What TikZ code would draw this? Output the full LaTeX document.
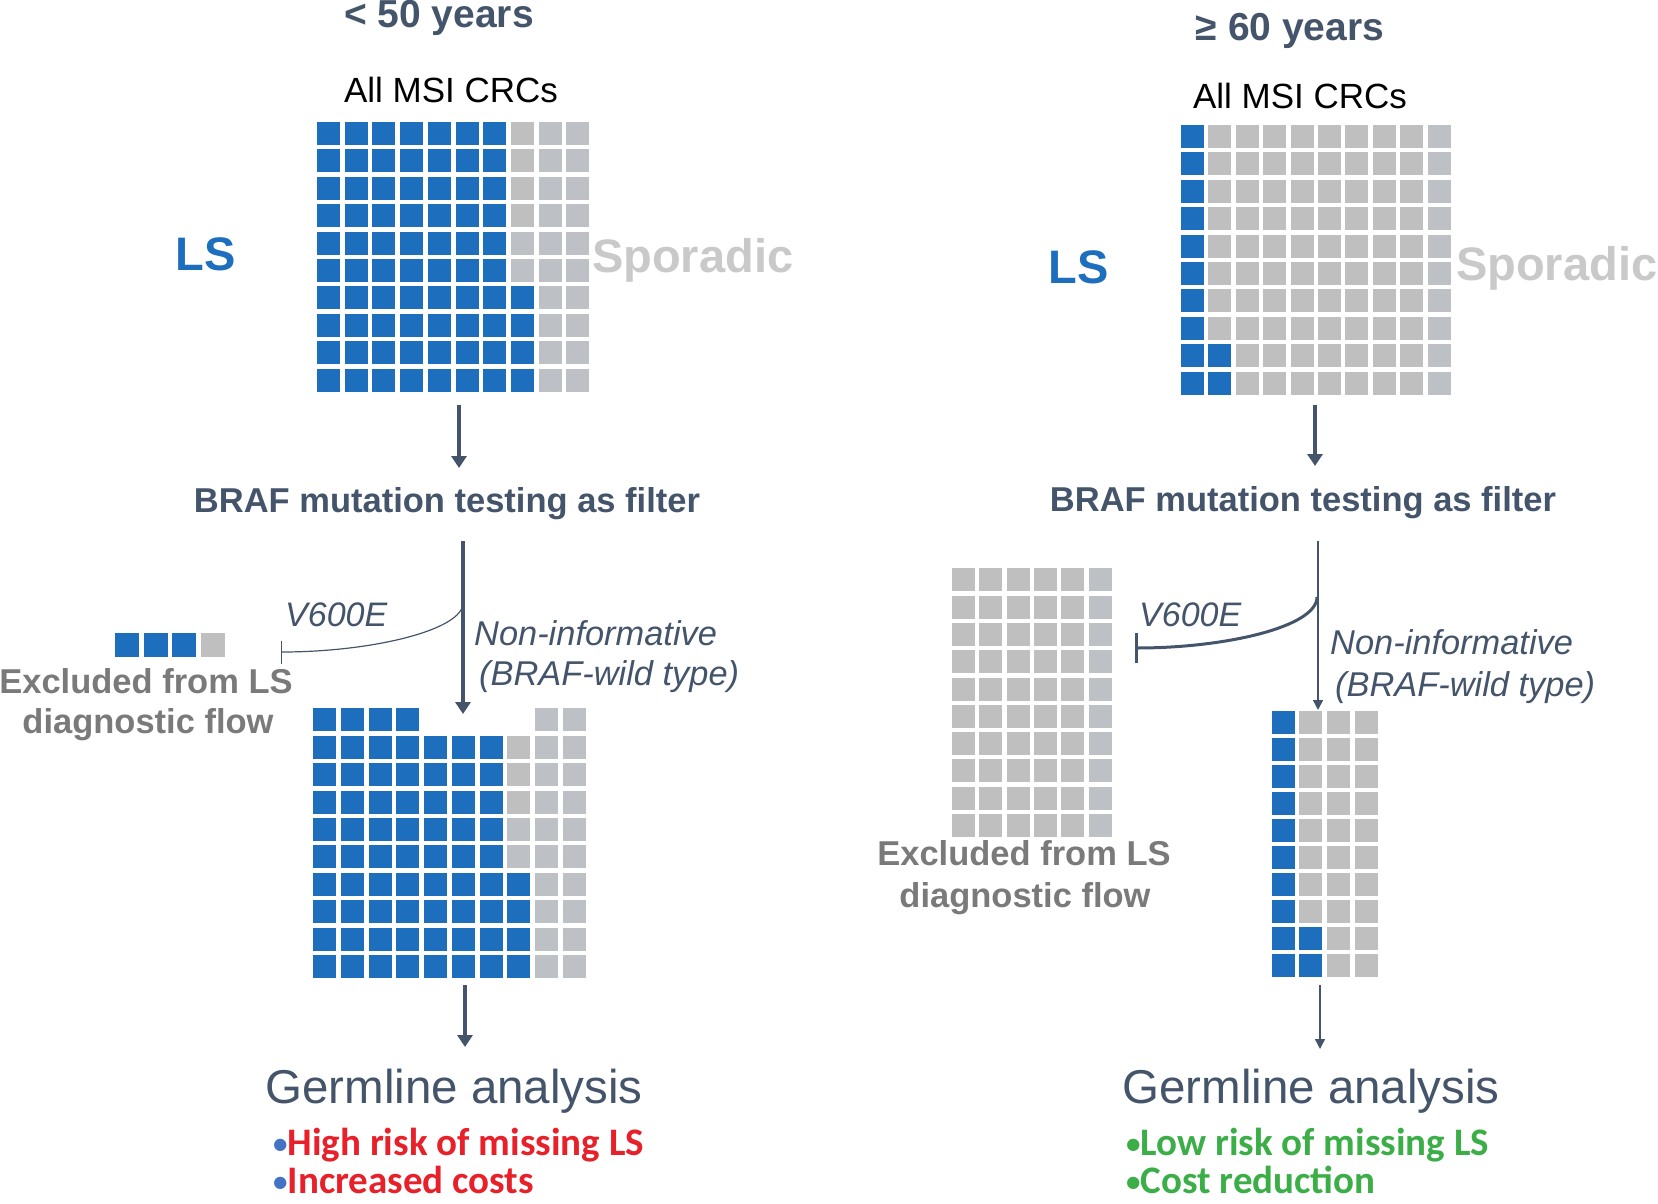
\documentclass[tikz,border=0pt]{standalone}
\usepackage{fontspec}
\setmainfont{Liberation Sans}
\newfontfamily\calfont{Carlito}
\usetikzlibrary{arrows.meta}
\definecolor{blueC}{HTML}{1E6EBE}
\definecolor{grayW}{HTML}{BFBFBF}
\definecolor{grayB}{HTML}{BDC1C6}
\definecolor{slate}{HTML}{44546A}
\definecolor{spor}{HTML}{C9C9C9}
\definecolor{exgray}{HTML}{7A7A7A}
\definecolor{redT}{HTML}{E8202A}
\definecolor{greenT}{HTML}{3BAE48}
\definecolor{bulB}{HTML}{4472C4}
\tikzset{
  cb/.style={fill=blueC}, cg/.style={fill=grayW}, ch/.style={fill=grayB}, nn/.style={fill=none},
  lbl/.style={inner sep=0pt, anchor=base},
  lblw/.style={inner sep=0pt, anchor=base west},
  bigarr/.style={draw=slate, line width=3.5pt, -{Triangle[width=15pt,length=12pt]}},
  thinarr/.style={draw=slate, line width=1.5pt, -{Triangle[width=10pt,length=10pt]}},
}
\newcommand\sqgrid[6]{%
  \foreach \rowspec [count=\rr from 0] in {#6} {
    \foreach \cc [count=\ii from 0] in \rowspec {
      \fill[\cc] ({#1+\ii*#3},{#2+\rr*#4}) rectangle ++(#5,#5);
    }
  }%
}
\newcommand\smbul{\raisebox{2pt}{\fontsize{29}{30}\selectfont •}}
\begin{document}
\begin{tikzpicture}[x=1pt,y=-1pt]
\useasboundingbox (0,0) rectangle (1658,1204);
% ---------- grids ----------
% left top
\sqgrid{317}{122}{27.7}{27.4}{23}{%
 {cb,cb,cb,cb,cb,cb,cb,cg,ch,ch},{cb,cb,cb,cb,cb,cb,cb,cg,ch,ch},
 {cb,cb,cb,cb,cb,cb,cb,cg,ch,ch},{cb,cb,cb,cb,cb,cb,cb,cg,ch,ch},
 {cb,cb,cb,cb,cb,cb,cb,ch,ch,ch},{cb,cb,cb,cb,cb,cb,cb,ch,ch,ch},
 {cb,cb,cb,cb,cb,cb,cb,cb,ch,ch},{cb,cb,cb,cb,cb,cb,cb,cb,ch,ch},
 {cb,cb,cb,cb,cb,cb,cb,cb,ch,ch},{cb,cb,cb,cb,cb,cb,cb,cb,ch,ch}}
% right top
\sqgrid{1181}{125}{27.4}{27.4}{23}{%
 {cb,cg,cg,cg,cg,cg,cg,cg,cg,ch},{cb,cg,cg,cg,cg,cg,cg,cg,cg,ch},
 {cb,cg,cg,cg,cg,cg,cg,cg,cg,ch},{cb,cg,cg,cg,cg,cg,cg,cg,cg,ch},
 {cb,cg,cg,cg,cg,cg,cg,cg,cg,ch},{cb,cg,cg,cg,cg,cg,cg,cg,cg,ch},
 {cb,cg,cg,cg,cg,cg,cg,cg,cg,ch},{cb,cg,cg,cg,cg,cg,cg,cg,cg,ch},
 {cb,cb,cg,cg,cg,cg,cg,cg,cg,ch},{cb,cb,cg,cg,cg,cg,cg,cg,cg,ch}}
% left bottom
\sqgrid{313.3}{708.3}{27.7}{27.4}{23}{%
 {cb,cb,cb,cb,nn,nn,nn,nn,ch,ch},
 {cb,cb,cb,cb,cb,cb,cb,cg,ch,ch},{cb,cb,cb,cb,cb,cb,cb,cg,ch,ch},
 {cb,cb,cb,cb,cb,cb,cb,cg,ch,ch},
 {cb,cb,cb,cb,cb,cb,cb,ch,ch,ch},{cb,cb,cb,cb,cb,cb,cb,ch,ch,ch},
 {cb,cb,cb,cb,cb,cb,cb,cb,ch,ch},{cb,cb,cb,cb,cb,cb,cb,cb,ch,ch},
 {cb,cb,cb,cb,cb,cb,cb,cb,ch,ch},{cb,cb,cb,cb,cb,cb,cb,cb,ch,ch}}
% left excluded mini row
\sqgrid{115}{632.5}{28.7}{0}{24}{{cb,cb,cb,cg}}
% right excluded grid
\sqgrid{951.7}{568.3}{27.4}{27.3}{23}{%
 {cg,cg,cg,cg,cg,ch},{cg,cg,cg,cg,cg,ch},{cg,cg,cg,cg,cg,ch},{cg,cg,cg,cg,cg,ch},
 {cg,cg,cg,cg,cg,ch},{cg,cg,cg,cg,cg,ch},{cg,cg,cg,cg,cg,ch},{cg,cg,cg,cg,cg,ch},
 {cg,cg,cg,cg,cg,ch},{cg,cg,cg,cg,cg,ch}}
% right bottom
\sqgrid{1271.7}{711}{27.7}{27}{23}{%
 {cb,cg,cg,cg},{cb,cg,cg,cg},{cb,cg,cg,cg},{cb,cg,cg,cg},
 {cb,cg,cg,cg},{cb,cg,cg,cg},{cb,cg,cg,cg},{cb,cg,cg,cg},
 {cb,cb,cg,cg},{cb,cb,cg,cg}}
% ---------- texts ----------
\node[lbl, text=slate, font=\fontsize{39}{47}\selectfont\bfseries] (t50) at (439,28) {< 50 years};
\node[lbl, text=slate, font=\fontsize{39}{47}\selectfont\bfseries] (t60) at (1290,41) {≥ 60 years};
\node[lbl, font=\fontsize{35}{42}\selectfont] (allL) at (451,103) {All MSI CRCs};
\node[lbl, font=\fontsize{35}{42}\selectfont] (allR) at (1300,109) {All MSI CRCs};
\node[lbl, text=blueC, font=\fontsize{47}{56}\selectfont\bfseries] (lsL) at (206,270) {LS};
\node[lbl, text=blueC, font=\fontsize{47}{56}\selectfont\bfseries] (lsR) at (1079,283) {LS};
\node[lblw, text=spor, font=\fontsize{47}{56}\selectfont\bfseries] (spL) at (592,272) {Sporadic};
\node[lblw, text=spor, font=\fontsize{47}{56}\selectfont\bfseries] (spR) at (1456,280) {Sporadic};
\node[lbl, text=slate, font=\fontsize{34.5}{41}\selectfont\bfseries] (brafL) at (447,512) {BRAF mutation testing as filter};
\node[lbl, text=slate, font=\fontsize{34.5}{41}\selectfont\bfseries] (brafR) at (1303,511) {BRAF mutation testing as filter};
\node[lblw, text=slate, font=\fontsize{34}{41}\selectfont\itshape] (v6L) at (285,626) {V600E};
\node[lblw, text=slate, font=\fontsize{34}{41}\selectfont\itshape] (v6R) at (1139,626) {V600E};
\node[lblw, text=slate, font=\fontsize{34.4}{41}\selectfont\itshape] (niL) at (474,645) {Non-informative};
\node[lblw, text=slate, font=\fontsize{34.4}{41}\selectfont\itshape] (wtL) at (479,685) {(BRAF-wild type)};
\node[lblw, text=slate, font=\fontsize{34.4}{41}\selectfont\itshape] (niR) at (1330,654) {Non-informative};
\node[lblw, text=slate, font=\fontsize{34.4}{41}\selectfont\itshape] (wtR) at (1335,696) {(BRAF-wild type)};
\node[lbl, text=exgray, font=\fontsize{34.5}{41}\selectfont\bfseries] (exL1) at (146,693) {Excluded from LS};
\node[lbl, text=exgray, font=\fontsize{34.5}{41}\selectfont\bfseries] (exL2) at (148,733) {diagnostic flow};
\node[lbl, text=exgray, font=\fontsize{34.5}{41}\selectfont\bfseries] (exR1) at (1024,865) {Excluded from LS};
\node[lbl, text=exgray, font=\fontsize{34.5}{41}\selectfont\bfseries] (exR2) at (1025,907) {diagnostic flow};
\node[lbl, text=slate, font=\fontsize{47.5}{56}\selectfont] (gL) at (454,1103) {Germline analysis};
\node[lbl, text=slate, font=\fontsize{47.5}{56}\selectfont] (gR) at (1311,1103) {Germline analysis};
\node[lblw, text=redT, font=\fontsize{39}{47}\calfont\bfseries] (hL1) at (273,1155) {\textcolor{bulB}{\smbul}High risk of missing LS};
\node[lblw, text=redT, font=\fontsize{39}{47}\calfont\bfseries] (hL2) at (273,1193) {\textcolor{bulB}{\smbul}Increased costs};
\node[lblw, text=greenT, font=\fontsize{39}{47}\calfont\bfseries] (hR1) at (1126,1155) {\smbul Low risk of missing LS};
\node[lblw, text=greenT, font=\fontsize{39}{47}\calfont\bfseries] (hR2) at (1126,1193) {\smbul Cost reduction};
% ---------- connectors ----------
\coordinate (a1s) at (459,405); \coordinate (a1e) at (459,468);
\coordinate (a2s) at (463,541); \coordinate (a2e) at (463,714);
\coordinate (a3s) at (465,985); \coordinate (a3e) at (465,1047);
\coordinate (b1s) at (1315,405); \coordinate (b1e) at (1315,466);
\coordinate (b2s) at (1318,541); \coordinate (b2e) at (1318,710);
\coordinate (b3s) at (1320,985); \coordinate (b3e) at (1320,1049);
\draw[bigarr] (a1s) -- (a1e);
\draw[bigarr] (a2s) -- (a2e);
\draw[bigarr] (a3s) -- (a3e);
\draw[bigarr] (b1s) -- (b1e);
\draw[thinarr] (b2s) -- (b2e);
\draw[thinarr] (b3s) -- (b3e);
\coordinate (vL) at (463,603); \coordinate (tL) at (281,652);
\coordinate (vR) at (1317,597); \coordinate (tR) at (1135,648);
\draw[slate, line width=1.2pt, -{Bar[width=23pt]}] (vL) .. controls (463,630) and (372,652) .. (tL);
\draw[slate, line width=3pt, -{Bar[width=30pt]}] (vR) .. controls (1317,627) and (1225,648) .. (tR);
\end{tikzpicture}
\end{document}
